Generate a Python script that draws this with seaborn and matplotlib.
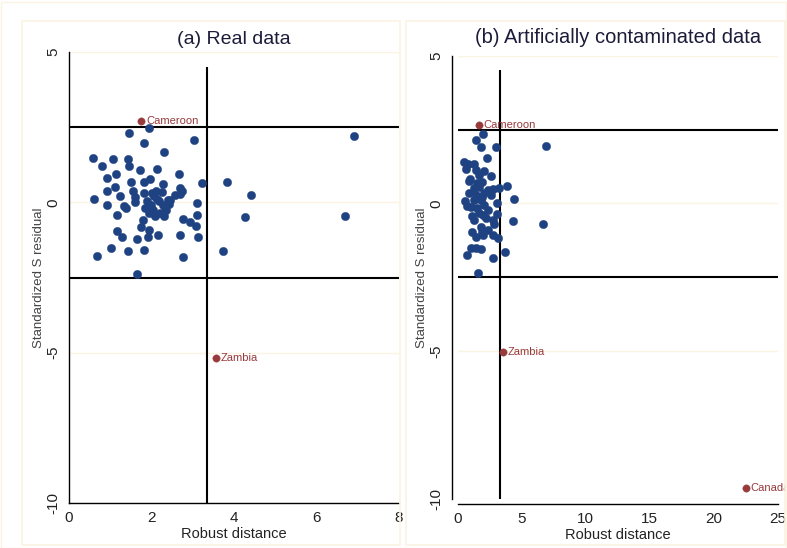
import matplotlib
matplotlib.use("Agg")
import matplotlib.pyplot as plt
import seaborn as sns
import pandas as pd
from matplotlib.patches import Rectangle

# ---------------- data ----------------
a_dist = [1.45, 1.95, 1.81, 3.03, 2.30, 0.59, 1.06, 1.42, 0.80, 1.45, 1.71, 2.13, 1.14, 0.91,
          2.67, 1.50, 1.83, 1.96, 2.28, 3.22, 1.11, 0.93, 1.55, 1.82, 2.00, 2.11, 2.25, 2.69,
          2.73, 1.24, 1.59, 2.58, 0.61, 1.90, 2.14, 2.19, 2.39, 2.46, 0.91, 1.33, 1.37, 1.60,
          1.85, 1.95, 2.04, 2.27, 2.36, 3.10, 1.16, 1.93, 2.09, 2.31, 1.79, 2.77, 2.93, 3.11,
          1.75, 3.08, 1.16, 1.95, 1.29, 1.66, 1.92, 2.15, 2.69, 3.13, 1.01, 1.42, 1.81, 0.67,
          2.77, 3.73, 1.66, 3.84, 6.92, 4.40, 4.27, 6.68, 2.00, 2.20, 1.98, 2.42, 2.05, 2.70]
a_resid = [2.30, 2.48, 1.98, 2.08, 1.66, 1.48, 1.43, 1.43, 1.22, 1.22, 1.08, 1.11, 0.93, 0.82,
           0.93, 0.67, 0.66, 0.77, 0.61, 0.64, 0.50, 0.37, 0.39, 0.32, 0.32, 0.38, 0.33, 0.47,
           0.38, 0.21, 0.18, 0.23, 0.11, 0.04, 0.10, 0.03, 0.08, 0.08, -0.08, -0.13, -0.18, 0.00,
           -0.20, -0.18, -0.24, -0.10, -0.27, -0.03, -0.42, -0.36, -0.46, -0.46, -0.58, -0.56, -0.64, -0.42,
           -0.82, -0.78, -0.96, -0.91, -1.14, -1.21, -1.14, -1.10, -1.10, -1.14, -1.53, -1.61, -1.57, -1.78,
           -1.81, -1.61, -2.39, 0.68, 2.19, 0.24, -0.50, -0.47, -0.30, -0.35, -0.10, -0.05, 0.20, 0.28]

b_dist = [1.96, 1.46, 1.80, 3.03, 6.90, 2.30, 0.50, 0.81, 1.28, 0.68, 1.44, 2.09, 2.64, 1.67,
          0.96, 0.85, 1.93, 3.84, 3.24, 1.28, 1.67, 2.33, 2.72, 0.89, 1.41, 2.06, 2.59, 4.39,
          0.55, 3.06, 0.76, 1.28, 1.80, 2.06, 1.54, 2.33, 3.06, 1.10, 1.96, 2.72, 4.29, 6.66,
          1.80, 2.85, 1.15, 2.72, 3.11, 1.41, 2.01, 1.02, 1.41, 1.80, 3.71, 0.71, 2.72, 1.62,
          1.54, 1.93, 1.67, 2.19, 1.28, 1.93, 2.33, 1.02]
b_resid = [2.35, 2.16, 1.91, 1.91, 1.96, 1.55, 1.39, 1.34, 1.34, 1.18, 1.14, 1.09, 0.94, 0.97,
           0.82, 0.75, 0.72, 0.60, 0.54, 0.52, 0.55, 0.46, 0.48, 0.35, 0.29, 0.35, 0.29, 0.16,
           0.07, 0.03, -0.09, 0.12, 0.12, -0.05, -0.16, -0.22, -0.37, -0.43, -0.39, -0.56, -0.60, -0.68,
           -0.79, -0.71, -0.97, -1.07, -1.16, -1.13, -1.08, -1.49, -1.52, -1.55, -1.63, -1.76, -1.83, -2.34,
           0.69, 0.23, -0.33, -0.50, -0.56, -0.96, -0.90, -0.11]

a_out_names = ["Cameroon", "Zambia"]
a_out_dist = [1.75, 3.56]
a_out_resid = [2.71, -5.17]

b_out_names = ["Cameroon", "Zambia", "Canada"]
b_out_dist = [1.65, 3.53, 22.5]
b_out_resid = [2.67, -5.02, -9.64]

a_cut_dist = 3.35
b_cut_dist = 3.30
resid_cut = 2.5

titles = ["(a) Real data", "(b) Artificially contaminated data"]
x_ticks = [[0, 2, 4, 6, 8], [0, 5, 10, 15, 20, 25]]
y_ticks = [-10, -5, 5, 0]
x_label = "Robust distance"
y_label = "Standardized S residual"

# ---------------- style ----------------
sns.set_style("white")
plt.rcParams["font.family"] = ["Liberation Sans", "DejaVu Sans"]

NAVY = "#1f4282"
MAROON = "#983a3c"
TITLE_C = "#1c1c3a"
GRID_C = "#fcf4e2"

W, H = 787, 548
fig = plt.figure(figsize=(W / 100, H / 100), dpi=100)
fig.patch.set_facecolor("white")

# faint panel frames (Stata-like graph regions)
for (x0, y0, x1, y1) in [(22, 21, 400, 545), (406, 21, 785, 545)]:
    fig.add_artist(Rectangle((x0 / W, 1 - y1 / H), (x1 - x0) / W, (y1 - y0) / H,
                             transform=fig.transFigure, fill=False,
                             edgecolor="#fbf3e3", lw=1.2))
fig.add_artist(Rectangle((0.5 / W, 0.5 / H), (W - 2) / W, (H - 2) / H,
                         transform=fig.transFigure, fill=False, edgecolor="#fbf3e3", lw=1.0))

# axes positions in pixels (left, top, right, bottom)
pos = [(69, 52, 399, 503), (457.7, 55.7, 777.7, 499)]
xlims = [(0, 8), (0, 25)]

panels = [
    (a_dist, a_resid, a_out_names, a_out_dist, a_out_resid, a_cut_dist),
    (b_dist, b_resid, b_out_names, b_out_dist, b_out_resid, b_cut_dist),
]

for i, (dx, ry, onames, odx, ory, cut) in enumerate(panels):
    l, t, r, b = pos[i]
    ax = fig.add_axes([l / W, 1 - b / H, (r - l) / W, (b - t) / H])
    ax.set_facecolor("white")
    ax.set_xlim(*xlims[i])
    ax.set_ylim(-10, 5)

    for yv in [-10, -5, 0, 5]:
        ax.axhline(yv, color=GRID_C, lw=1.0, zorder=0)

    df = pd.DataFrame({"dist": dx, "resid": ry})
    sns.scatterplot(data=df, x="dist", y="resid", ax=ax, color=NAVY, s=36,
                    edgecolor=NAVY, linewidth=0.3, zorder=3, clip_on=False)
    dfo = pd.DataFrame({"dist": odx, "resid": ory, "name": onames})
    sns.scatterplot(data=dfo, x="dist", y="resid", ax=ax, color=MAROON, s=28,
                    edgecolor=MAROON, linewidth=0.3, zorder=3, clip_on=False)
    for _, row in dfo.iterrows():
        ax.annotate(row["name"], (row["dist"], row["resid"]), xytext=(3.5, 0),
                    textcoords="offset points", va="center", ha="left",
                    color=MAROON, fontsize=8, annotation_clip=False, clip_on=False)

    ax.axhline(resid_cut, color="black", lw=1.5, zorder=2)
    ax.axhline(-resid_cut, color="black", lw=1.5, zorder=2)
    ax.plot([cut, cut], [-10, 4.5], color="black", lw=1.5, zorder=2,
            solid_capstyle="butt")

    for s in ["top", "right"]:
        ax.spines[s].set_visible(False)
    for s in ["left", "bottom"]:
        ax.spines[s].set_color("black")
        ax.spines[s].set_linewidth(1.0)
    if i == 1:
        ax.spines["left"].set_position(("outward", 4))
        ax.spines["bottom"].set_position(("outward", 3.6))

    ax.set_xticks(x_ticks[i])
    ax.set_xticklabels([str(v) for v in x_ticks[i]], fontsize=11, color="#222222")
    ax.set_yticks(y_ticks)
    ax.set_yticklabels([str(v) for v in y_ticks], fontsize=11,
                       rotation=90, va="center", color="#222222")
    ax.tick_params(axis="both", direction="out", length=4, width=1, color="black",
                   pad=2)

    ax.set_xlabel(x_label, fontsize=10.5, color="#222222", labelpad=1)
    ax.set_ylabel(y_label, fontsize=9.5, color="#444444", labelpad=1)
    ax.set_title(titles[i], fontsize=14.5 if i == 1 else 14, color=TITLE_C,
                 pad=6 if i == 0 else 9)

fig.savefig("out.png", dpi=100, facecolor="white")
